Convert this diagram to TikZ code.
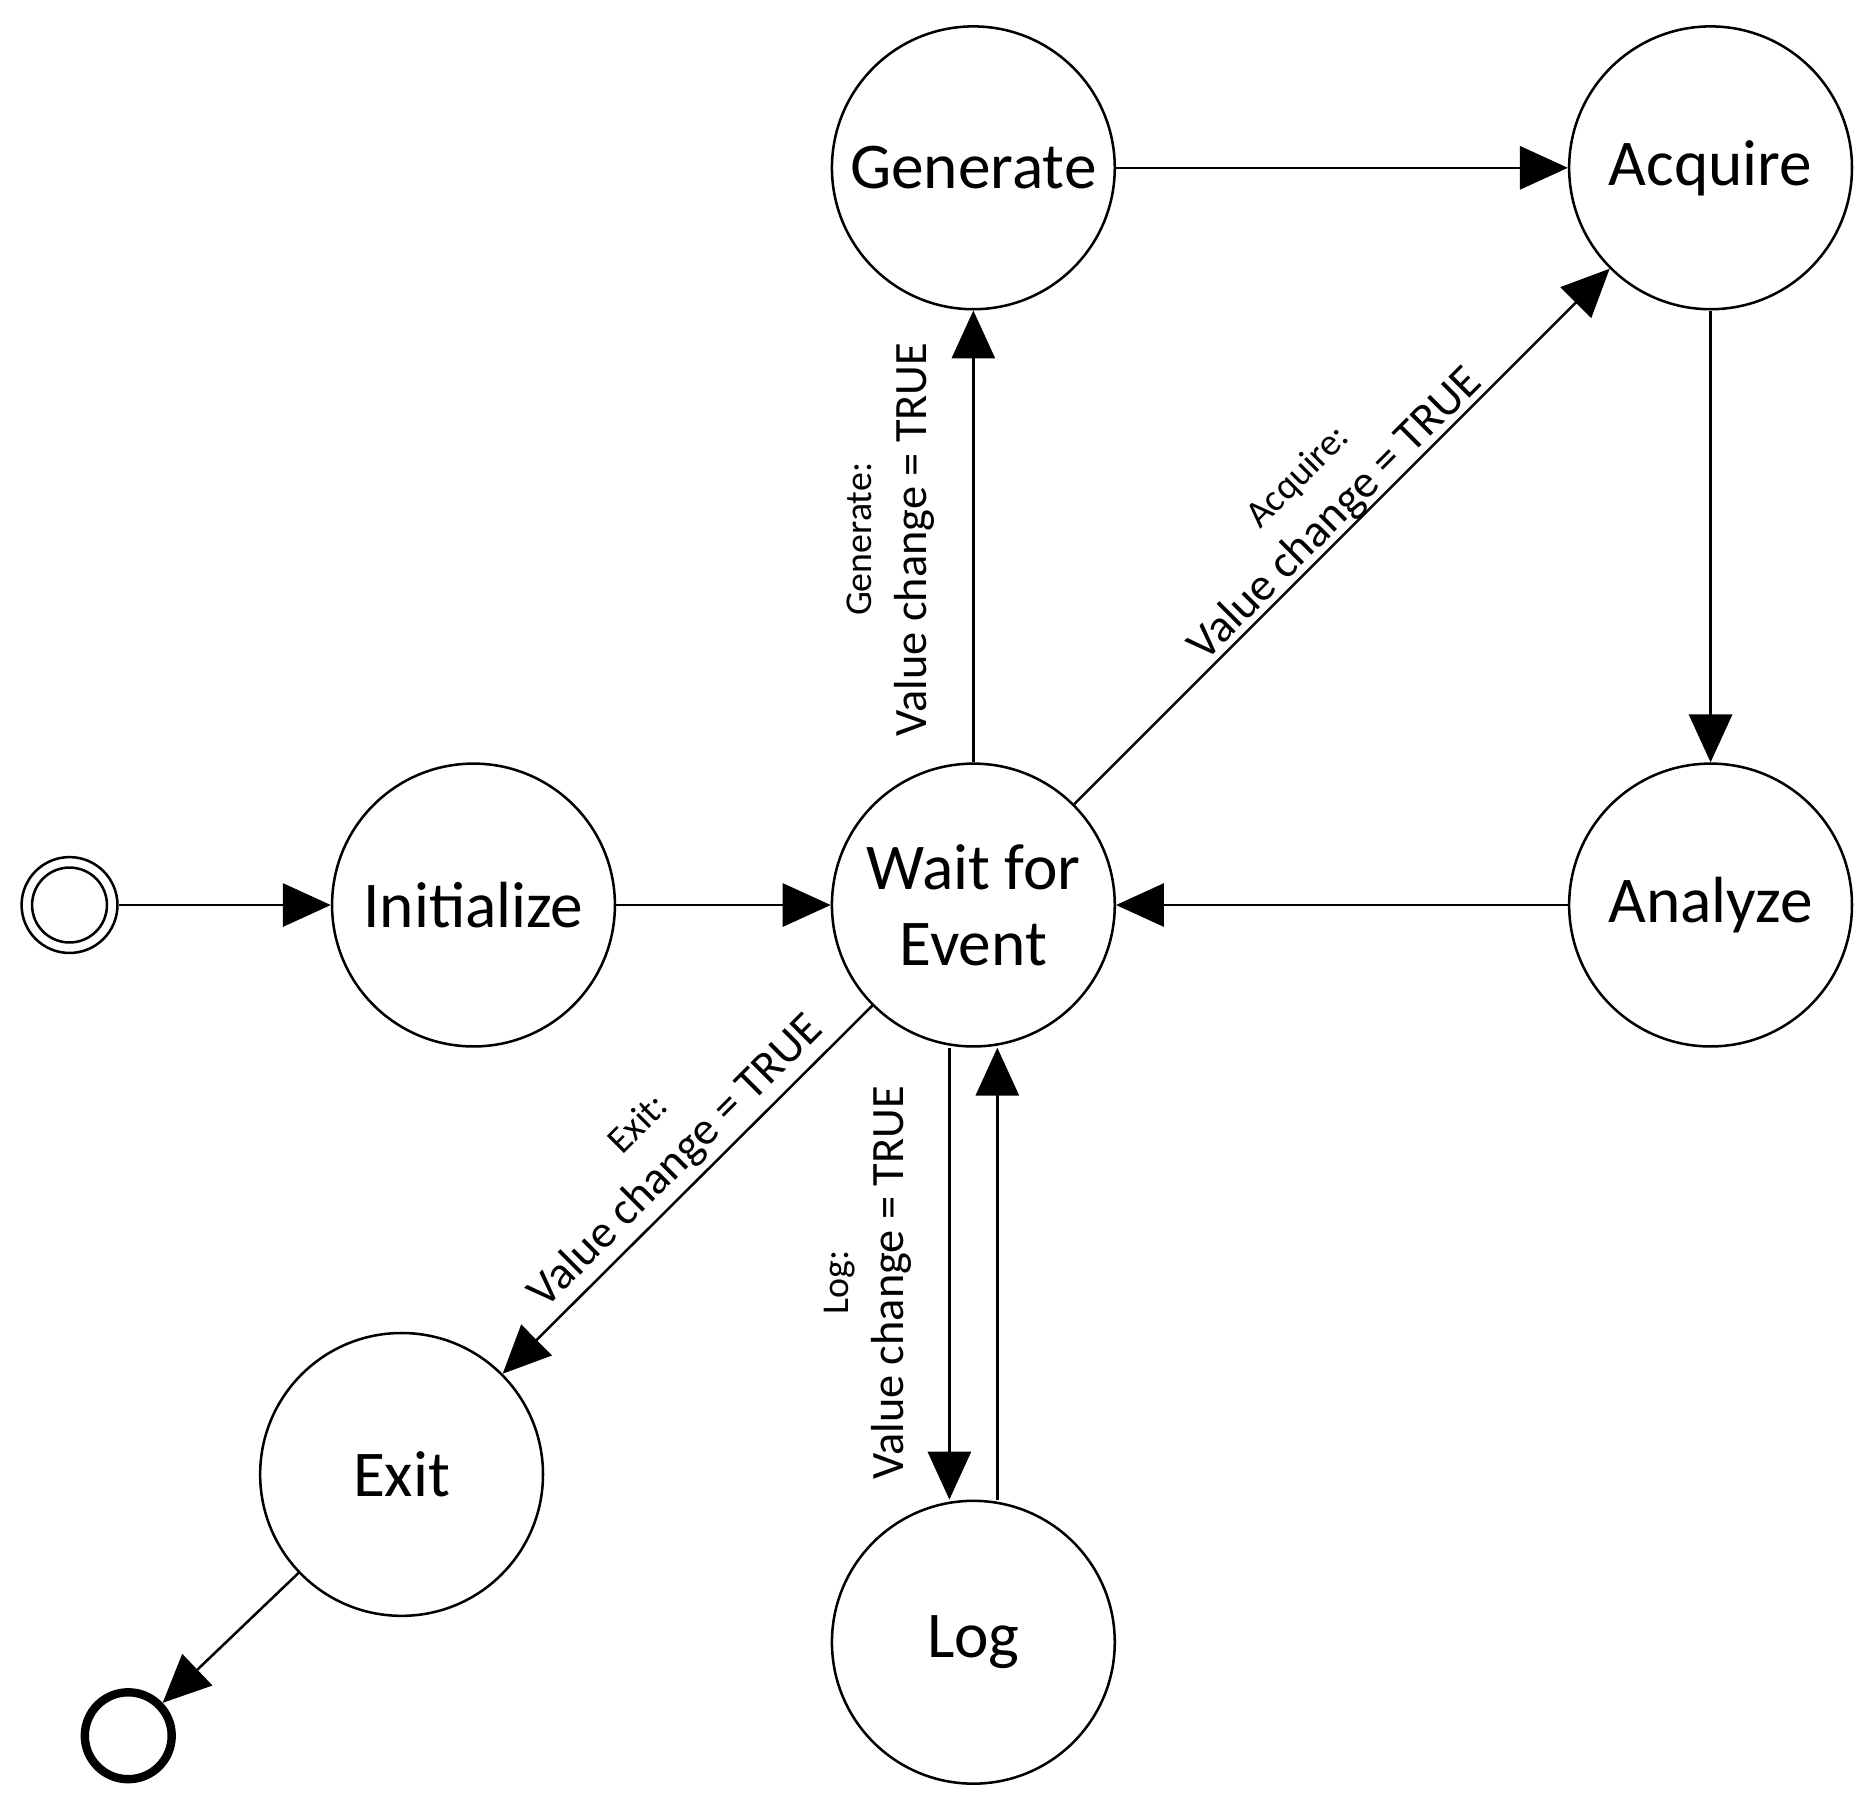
\documentclass[tikz,border=0pt]{standalone}
\usepackage{fontspec}
\setmainfont{Carlito}
\usetikzlibrary{arrows.meta}
\begin{document}
\begin{tikzpicture}[x=0.02cm,y=-0.02cm,
  st/.style={circle,draw,line width=1.2pt,minimum size=4.72cm,inner sep=0pt,align=center,font=\fontsize{31}{36}\selectfont},
  ar/.style={line width=1.2pt,-{Triangle[length=0.8cm,width=0.72cm]}},
  lb/.style={align=center,font=\fontsize{22}{26}\selectfont},
  sm/.style={font=\fontsize{18}{22}\selectfont}]
\useasboundingbox (0,0) rectangle (1560,1500);
\node[circle,draw,line width=1.2pt,minimum size=1.6cm,inner sep=0pt] (s) at (58,755) {};
\node[circle,draw,line width=1.2pt,minimum size=1.25cm,inner sep=0pt] at (58,755) {};
\node[st] (i) at (395,755) {Initialize};
\node[st] (w) at (812,755) {Wait for\\Event};
\node[st] (g) at (812,140) {Generate};
\node[st] (a) at (1427,140) {Acquire};
\node[st] (n) at (1427,755) {Analyze};
\node[st] (x) at (335,1230) {Exit};
\node[st] (l) at (812,1370) {Log};
\node[circle,draw,line width=4pt,minimum size=1.45cm,inner sep=0pt] (e) at (107,1448) {};
\draw[ar] (s) -- (i);
\draw[ar] (i) -- (w);
\draw[ar] (w) -- (g);
\draw[ar] (g) -- (a);
\draw[ar] (w) -- (a);
\draw[ar] (a) -- (n);
\draw[ar] (n) -- (w);
\draw[ar] (w) -- (x);
\draw[ar] ([xshift=-0.4cm]w.south) -- ([xshift=-0.4cm]l.north);
\draw[ar] ([xshift=0.4cm]l.north) -- ([xshift=0.4cm]w.south);
\draw[ar] (x) -- (e);
\node[lb,rotate=90] at (743,450) {{\fontsize{18}{22}\selectfont Generate:}\\Value change = TRUE};
\node[lb,rotate=45] at (1100,415) {{\fontsize{18}{22}\selectfont Acquire:}\\Value change = TRUE};
\node[lb,rotate=45] at (550,955) {{\fontsize{18}{22}\selectfont Exit:}\\Value change = TRUE};
\node[lb,rotate=90] at (724,1070) {{\fontsize{18}{22}\selectfont Log:}\\Value change = TRUE};
\end{tikzpicture}
\end{document}
